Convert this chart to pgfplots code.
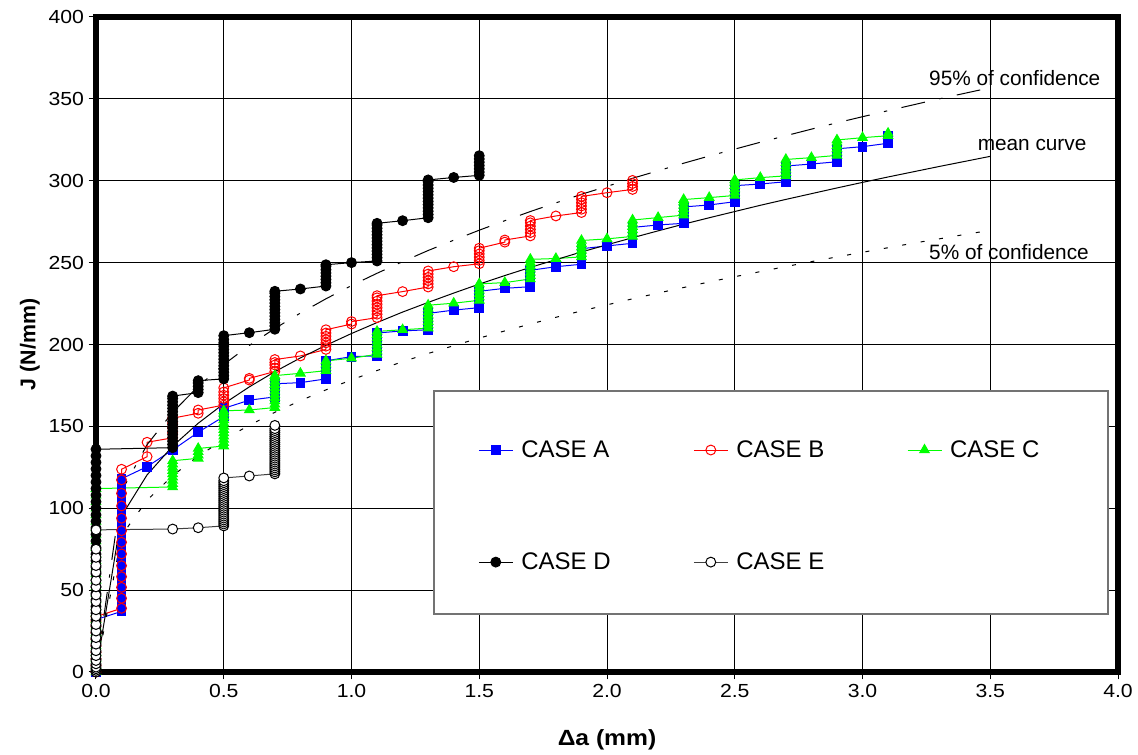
\documentclass[border=0pt]{standalone}
\usepackage{fontspec}
\setmainfont{Liberation Sans}
\newfontfamily\stretchfont{Liberation Sans}[FakeStretch=1.12]
\usepackage{pgfplots}
\pgfplotsset{compat=1.18}
\begin{document}
\begin{tikzpicture}
\begin{axis}[
  at={(0,0)}, anchor=south west,
  scale only axis, width=766.5pt, height=491.25pt,
  xmin=0, xmax=4, ymin=0, ymax=400,
  xtick={0,0.5,1,1.5,2,2.5,3,3.5,4},
  ytick={0,50,100,150,200,250,300,350,400},
  clip=false,
  axis line style={line width=4pt, line cap=rect},
  grid=major,
  major grid style={line width=0.75pt, black},
  tick align=outside, tick pos=left,
  major tick length=5.5pt,
  every tick/.style={black, line width=0.75pt},
  /pgf/number format/assume math mode=true,
  tick label style={font=\stretchfont\fontsize{14.2}{16}\selectfont},
  xticklabel style={/pgf/number format/fixed, /pgf/number format/fixed zerofill, /pgf/number format/precision=1},
  xlabel={\stretchfont\bfseries\fontsize{16.5}{19}\selectfont Δa (mm)},
  ylabel={\bfseries\fontsize{16}{19}\selectfont J (N/mm)},
  xlabel style={at={(axis description cs:0.5,-0.1038)}, anchor=center},
  ylabel style={at={(axis description cs:-0.0646,0.5)}, anchor=center},
  every axis plot/.append style={line width=0.75pt},
  legend columns=3,
  legend cell align=left,
  legend image code/.code={\draw[mark repeat=2,mark phase=2,#1] plot coordinates {(0pt,0pt) (12.75pt,0pt) (25.5pt,0pt)};},
  legend style={at={(0.3738,0.3577)}, anchor=north west, draw=none, fill=none, inner sep=0pt,
    row sep=66pt, font=\fontsize{18}{21}\selectfont,
    /tikz/every even column/.append style={column sep=60pt},
    /tikz/every odd column/.append style={column sep=4pt}},
]
% CASE A
\addplot[blue, mark=square*, mark size=3.3pt, mark options={fill=blue, draw=blue}] coordinates {
(0,0)(0,4)(0,8)(0,12)(0,16)(0,20)(0,24)(0,28)(0,32)
(0.1,37)(0.1,41)(0.1,45)(0.1,49)(0.1,53)(0.1,57)(0.1,61)(0.1,65)(0.1,69)(0.1,73)(0.1,77)(0.1,81)(0.1,85)(0.1,89)(0.1,93)(0.1,97)(0.1,101)(0.1,105)(0.1,109)(0.1,113)(0.1,118)
(0.2,125.4)(0.3,135.6)(0.4,146.4)
(0.5,156)(0.5,158)(0.5,160)(0.5,161)
(0.6,166)
(0.7,168)(0.7,170)(0.7,172)(0.7,174)(0.7,176)
(0.8,176.7)
(0.9,179)(0.9,181)(0.9,183)(0.9,185)(0.9,187)(0.9,189)(0.9,190)
(1.0,192.6)
(1.1,193)(1.1,195)(1.1,197)(1.1,199)(1.1,201)(1.1,203)(1.1,205)(1.1,207)
(1.2,208.3)
(1.3,209)(1.3,211)(1.3,213)(1.3,215)(1.3,217)(1.3,219)
(1.4,221)
(1.5,222.5)(1.5,224.5)(1.5,226.5)(1.5,228.5)(1.5,230.5)(1.5,232.5)
(1.6,234.3)
(1.7,235.3)(1.7,237.3)(1.7,239.3)(1.7,241.3)(1.7,243.3)(1.7,245.3)
(1.8,247.5)
(1.9,249)(1.9,251)(1.9,253)(1.9,255)(1.9,257)(1.9,258.5)
(2.0,260.2)
(2.1,261.8)(2.1,263.8)(2.1,265.8)(2.1,267.8)(2.1,269.8)(2.1,271.5)
(2.2,273)
(2.3,274)(2.3,276)(2.3,278)(2.3,280)(2.3,282)(2.3,284)
(2.4,285.2)
(2.5,287.2)(2.5,289.2)(2.5,291.2)(2.5,293.2)(2.5,295.2)(2.5,297)
(2.6,298)
(2.7,299.4)(2.7,301.4)(2.7,303.4)(2.7,305.4)(2.7,307.4)(2.7,309)
(2.8,310.2)
(2.9,311.6)(2.9,313.6)(2.9,315.6)(2.9,317.6)(2.9,319.5)
(3.0,320.8)
(3.1,322.9)(3.1,324.5)(3.1,326)(3.1,327.5)
};
\addlegendentry{CASE A}
% CASE B
\addplot[red, mark=o, mark size=3.7pt] coordinates {
(0,0)(0,4)(0,8)(0,12)(0,16)(0,20)(0,24)(0,28)(0,31)(0,33.8)
(0.1,38.9)(0.1,45.0)(0.1,51.7)(0.1,58.2)(0.1,64.9)(0.1,72.1)(0.1,79.2)(0.1,86.3)(0.1,93.9)(0.1,101.4)(0.1,109.1)(0.1,117.3)(0.1,123.8)
(0.2,131.5)(0.2,140.3)
(0.3,143)(0.3,146)(0.3,149)(0.3,152)(0.3,155)
(0.4,158)(0.4,160)
(0.5,163)(0.5,165)(0.5,167)(0.5,169)(0.5,171)(0.5,173.5)
(0.6,178.3)(0.6,179.3)
(0.7,183.5)(0.7,185.5)(0.7,187.5)(0.7,189)(0.7,190.8)
(0.8,193)
(0.9,197)(0.9,199)(0.9,201)(0.9,203)(0.9,205)(0.9,207)(0.9,209)
(1.0,212.5)(1.0,214)
(1.1,216.4)(1.1,218.5)(1.1,220.5)(1.1,222.5)(1.1,224.5)(1.1,226.5)(1.1,228.5)(1.1,229.8)
(1.2,232.3)
(1.3,235.1)(1.3,237)(1.3,239)(1.3,241)(1.3,243)(1.3,244.9)
(1.4,247.5)
(1.5,249.3)(1.5,251.3)(1.5,253.3)(1.5,255.3)(1.5,257.3)(1.5,258.8)
(1.6,262.5)(1.6,263.8)
(1.7,266.3)(1.7,268.3)(1.7,270.3)(1.7,272.3)(1.7,274.3)(1.7,275.7)
(1.8,278.5)
(1.9,280.6)(1.9,282.6)(1.9,284.6)(1.9,286.6)(1.9,288.6)(1.9,290.4)
(2.0,292.7)
(2.1,294.7)(2.1,296.5)(2.1,298.3)(2.1,300.2)
};
\addlegendentry{CASE B}
% CASE C
\addplot[green, mark=triangle*, mark size=4.1pt, mark options={fill=green, draw=green}] coordinates {
(0,0)(0,4)(0,8)(0,12)(0,16)(0,20)(0,24)(0,28)(0,32)(0,36)(0,40)(0,44)(0,48)(0,52)(0,56)(0,60)(0,64)(0,68)(0,72)(0,76)(0,80)(0,84)(0,88)(0,92)(0,96)(0,100)(0,104)(0,108)(0,112)
(0.3,113)(0.3,115)(0.3,117)(0.3,119)(0.3,121)(0.3,123)(0.3,125)(0.3,127)(0.3,129)
(0.4,130.5)(0.4,132.5)(0.4,134.5)(0.4,136.5)
(0.5,138)(0.5,140)(0.5,142)(0.5,144)(0.5,146)(0.5,148)(0.5,150)(0.5,152)(0.5,154)(0.5,156)(0.5,158)(0.5,159.5)
(0.6,160)
(0.7,161.5)(0.7,163.5)(0.7,165.5)(0.7,167.5)(0.7,169.5)(0.7,171.5)(0.7,173.5)(0.7,175.5)(0.7,177.5)(0.7,179.5)(0.7,181)
(0.8,182.4)
(0.9,184)(0.9,186)(0.9,188)(0.9,190)
(1.0,191.6)
(1.1,194)(1.1,196)(1.1,198)(1.1,200)(1.1,202)(1.1,204)(1.1,206)(1.1,208)
(1.2,209)
(1.3,210)(1.3,212)(1.3,214)(1.3,216)(1.3,218)(1.3,220)(1.3,222)(1.3,224)
(1.4,225.2)
(1.5,227)(1.5,229)(1.5,231)(1.5,233)(1.5,235)(1.5,237)
(1.6,237.8)
(1.7,240)(1.7,242)(1.7,244)(1.7,246)(1.7,248)(1.7,250)(1.7,252)
(1.8,252.5)
(1.9,253.5)(1.9,255.5)(1.9,257.5)(1.9,259.5)(1.9,261.5)(1.9,263.5)
(2.0,264.5)
(2.1,266)(2.1,268)(2.1,270)(2.1,272)(2.1,274)(2.1,276)
(2.2,277.5)
(2.3,279)(2.3,281)(2.3,283)(2.3,285)(2.3,287)(2.3,288.5)
(2.4,289.7)
(2.5,291)(2.5,293)(2.5,295)(2.5,297)(2.5,299)(2.5,300.5)
(2.6,301.9)
(2.7,303)(2.7,305)(2.7,307)(2.7,309)(2.7,311)(2.7,313)
(2.8,314.1)
(2.9,315.5)(2.9,317.5)(2.9,319.5)(2.9,321.5)(2.9,323.5)(2.9,324.9)
(3.0,326.3)
(3.1,327.5)(3.1,329)
};
\addlegendentry{CASE C}
% CASE D
\addplot[black, mark=*, mark size=3.7pt, mark options={fill=black, draw=black}] coordinates {
(0,0)(0,4)(0,8)(0,12)(0,16)(0,20)(0,24)(0,28)(0,32)(0,36)(0,40)(0,44)(0,48)(0,52)(0,56)(0,60)(0,64)(0,68)(0,72)(0,76)(0,80)(0,84)(0,88)(0,92)(0,96)(0,100)(0,104)(0,108)(0,112)(0,116)(0,120)(0,124)(0,128)(0,132)(0,136)
(0.3,137)(0.3,139)(0.3,141)(0.3,143)(0.3,145)(0.3,147)(0.3,149)(0.3,151)(0.3,153)(0.3,155)(0.3,157)(0.3,159)(0.3,161)(0.3,163)(0.3,165)(0.3,167)(0.3,168.5)
(0.4,170.6)(0.4,172.5)(0.4,174.5)(0.4,176.5)(0.4,177.9)
(0.5,179)(0.5,181)(0.5,183)(0.5,185)(0.5,187)(0.5,189)(0.5,191)(0.5,193)(0.5,195)(0.5,197)(0.5,199)(0.5,201)(0.5,203)(0.5,205.4)
(0.6,207.2)
(0.7,209.3)(0.7,211.3)(0.7,213.3)(0.7,215.3)(0.7,217.3)(0.7,219.3)(0.7,221.3)(0.7,223.3)(0.7,225.3)(0.7,227.3)(0.7,229.3)(0.7,231.3)(0.7,232.5)
(0.8,233.9)
(0.9,235.7)(0.9,237.7)(0.9,239.7)(0.9,241.7)(0.9,243.7)(0.9,245.7)(0.9,247.7)(0.9,248.7)
(1.0,250)
(1.1,251)(1.1,253)(1.1,255)(1.1,257)(1.1,259)(1.1,261)(1.1,263)(1.1,265)(1.1,267)(1.1,269)(1.1,271)(1.1,273)(1.1,274)
(1.2,275.6)
(1.3,277.4)(1.3,279.4)(1.3,281.4)(1.3,283.4)(1.3,285.4)(1.3,287.4)(1.3,289.4)(1.3,291.4)(1.3,293.4)(1.3,295.4)(1.3,297.4)(1.3,299.4)(1.3,300.5)
(1.4,302)
(1.5,303.3)(1.5,305.3)(1.5,307.3)(1.5,309.3)(1.5,311.3)(1.5,313.3)(1.5,315.3)
};
\addlegendentry{CASE D}
% CASE E
\addplot[black!75, mark=*, mark size=3.7pt, mark options={fill=white, draw=black}] coordinates {
(0,0)(0,1)(0,2)(0,3)(0,5)(0,7)(0,10)(0,13)(0,17)(0,21)(0,25)(0,29)(0,34)(0,38)(0,43)(0,47)(0,52)(0,56)(0,61)(0,65)(0,70)(0,75)(0,86.8)
(0.3,87.3)(0.4,88.1)
(0.5,89.2)(0.5,90.4)(0.5,91.6)(0.5,92.8)(0.5,94.0)(0.5,95.2)(0.5,96.4)(0.5,97.6)(0.5,98.8)(0.5,100.0)(0.5,101.2)(0.5,102.4)(0.5,103.6)(0.5,104.8)(0.5,106.0)(0.5,107.2)(0.5,108.4)(0.5,109.6)(0.5,110.8)(0.5,112.0)(0.5,113.2)(0.5,114.4)(0.5,115.6)(0.5,116.8)(0.5,118.5)
(0.6,119.7)
(0.7,121.0)(0.7,122.2)(0.7,123.4)(0.7,124.6)(0.7,125.8)(0.7,127.0)(0.7,128.2)(0.7,129.4)(0.7,130.6)(0.7,131.8)(0.7,133.0)(0.7,134.2)(0.7,135.4)(0.7,136.6)(0.7,137.8)(0.7,139.0)(0.7,140.2)(0.7,141.4)(0.7,142.6)(0.7,143.8)(0.7,145.0)(0.7,146.2)(0.7,147.4)(0.7,148.6)(0.7,150.6)
};
\addlegendentry{CASE E}
% mean curve
\addplot[black, no marks, forget plot] coordinates {
(0,0)(0.1,95.3)(0.2,120.4)(0.3,137.9)(0.4,151.9)(0.5,163.8)(0.6,174.1)(0.7,183.4)(0.8,191.8)(0.9,199.5)(1.0,206.7)(1.1,213.4)(1.2,219.8)(1.3,225.7)(1.4,231.4)(1.5,236.9)(1.6,242.1)(1.7,247.1)(1.8,251.8)(1.9,256.5)(2.0,260.9)(2.1,265.2)(2.2,269.4)(2.3,273.5)(2.4,277.4)(2.5,281.2)(2.6,285.0)(2.7,288.6)(2.8,292.1)(2.9,295.6)(3.0,299.0)(3.1,302.3)(3.2,305.5)(3.3,308.7)(3.4,311.8)(3.5,314.9)
};
% 95% curve
\addplot[black, no marks, forget plot, dash pattern=on 18pt off 11pt on 2.5pt off 11pt] coordinates {
(0,0)(0.1,110.4)(0.2,138.8)(0.3,158.6)(0.4,174.4)(0.5,187.8)(0.6,199.4)(0.7,209.8)(0.8,219.2)(0.9,227.9)(1.0,236.0)(1.1,243.5)(1.2,250.6)(1.3,257.4)(1.4,263.7)(1.5,269.8)(1.6,275.6)(1.7,281.2)(1.8,286.5)(1.9,291.7)(2.0,296.6)(2.1,301.5)(2.2,306.1)(2.3,310.7)(2.4,315.1)(2.5,319.3)(2.6,323.5)(2.7,327.5)(2.8,331.5)(2.9,335.4)(3.0,339.1)(3.1,342.8)(3.2,346.4)(3.3,350.0)(3.4,353.4)(3.5,356.8)
};
% 5% curve
\addplot[black, no marks, forget plot, dash pattern=on 3pt off 11pt] coordinates {
(0,0)(0.1,83.4)(0.2,104.9)(0.3,119.9)(0.4,131.8)(0.5,141.9)(0.6,150.7)(0.7,158.6)(0.8,165.7)(0.9,172.3)(1.0,178.4)(1.1,184.1)(1.2,189.5)(1.3,194.5)(1.4,199.3)(1.5,203.9)(1.6,208.3)(1.7,212.5)(1.8,216.6)(1.9,220.5)(2.0,224.2)(2.1,227.9)(2.2,231.4)(2.3,234.8)(2.4,238.2)(2.5,241.4)(2.6,244.5)(2.7,247.6)(2.8,250.6)(2.9,253.5)(3.0,256.3)(3.1,259.1)(3.2,261.9)(3.3,264.5)(3.4,267.2)(3.5,269.7)
};
\draw[black!55, line width=1pt, fill=white] (axis cs:1.323,171.6) rectangle (axis cs:3.961,35.4);
\node[anchor=base west, inner sep=0pt, font=\fontsize{15.6}{17}\selectfont] at (axis cs:3.26,357.9) {95\% of confidence};
\node[anchor=base west, inner sep=0pt, font=\fontsize{15.6}{17}\selectfont] at (axis cs:3.45,318.2) {mean curve};
\node[anchor=base west, inner sep=0pt, font=\fontsize{15.6}{17}\selectfont] at (axis cs:3.26,251.6) {5\% of confidence};
\end{axis}
\pgfresetboundingbox
\path (-72pt,-62.25pt) rectangle (781.5pt,504pt);
\end{tikzpicture}
\end{document}
